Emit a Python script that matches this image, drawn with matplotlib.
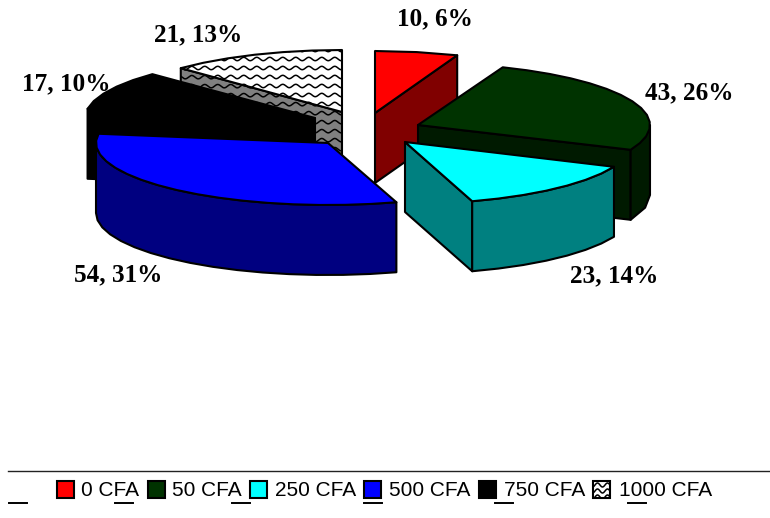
import numpy as np
import matplotlib
matplotlib.use("Agg")
import matplotlib.pyplot as plt
from matplotlib.patches import Polygon, Rectangle

categories = ["0 CFA", "50 CFA", "250 CFA", "500 CFA", "750 CFA", "1000 CFA"]
values = [10, 43, 23, 54, 17, 21]
percents = [6, 26, 14, 31, 10, 13]

# layout, in pixels
W, H = 770, 518
RX = [225, 232, 228, 232, 230, 228]
RY = 62
DEPTH = 70
APEX = [(375, 113), (418, 125), (405, 142), (328, 143), (315, 118), (342, 112)]
LABEL_POS = [(435, 19), (689, 93), (614, 276), (118, 275), (66, 84), (198, 35)]
SWATCH_X = [57, 148, 250, 364, 479, 593]
TEXT_X = [81, 172, 275, 389, 504, 619]
UNDERSCORE_X = [9, 115, 232, 364, 495, 628]

TOPS = ["#ff0000", "#003300", "#00ffff", "#0000ff", "#000000", "#ffffff"]
WALLS = ["#800000", "#001a00", "#008080", "#000080", "#000000", "#808080"]
PATTERNED = 5
LW = 1.5

fig = plt.figure(figsize=(W / 100, H / 100), dpi=100)
ax = fig.add_axes([0, 0, 1, 1])
ax.set_xlim(0, W)
ax.set_ylim(H, 0)
ax.axis("off")


def rim(i, t):
    t = np.radians(t)
    return np.column_stack((APEX[i][0] + RX[i] * np.sin(t), APEX[i][1] - RY * np.cos(t)))


def arc(t1, t2):
    # coarse steps, the original rim is a bit polygonal
    return np.linspace(t1, t2, max(3, int((t2 - t1) / 6)))


def waves(patch, x0, x1, y0, y1, step, period, amp):
    # wavy fill pattern, clipped to the patch
    xs = np.linspace(x0, x1, int(x1 - x0) * 2)
    for y in np.arange(y0, y1, step):
        line, = ax.plot(xs, y + amp * np.sin(2 * np.pi * xs / period),
                        color="black", lw=1.1, zorder=patch.get_zorder())
        line.set_clip_path(patch)


def face(pts, color, z, pattern=False):
    p = Polygon(pts, closed=True, fc=color, ec="none", zorder=z)
    ax.add_patch(p)
    if pattern:
        xy = np.asarray(pts)
        waves(p, xy[:, 0].min(), xy[:, 0].max(), xy[:, 1].min(), xy[:, 1].max(), 9, 13, 1.7)
    ax.add_patch(Polygon(pts, closed=True, fc="none", ec="black", lw=LW, joinstyle="round", zorder=z))


def wall(top, color, z, pattern=False):
    down = top[::-1] + np.array([0, DEPTH])
    face(np.vstack((top, down)), color, z, pattern)


edges = np.concatenate(([0], np.cumsum(values))) / sum(values) * 360
order = [5, 4, 0, 1, 2, 3]

for n, i in enumerate(order):
    t1, t2 = edges[i], edges[i + 1]
    z = 2 + n * 10
    patterned = i == PATTERNED
    # straight wall along the cut that faces the viewer
    if t1 > 180:
        wall(np.vstack((APEX[i], rim(i, t1))), WALLS[i], z, patterned)
    if t2 < 180:
        wall(np.vstack((APEX[i], rim(i, t2))), WALLS[i], z, patterned)
    # curved wall on the front part of the rim
    a, b = max(t1, 90), min(t2, 270)
    if a < b:
        wall(rim(i, arc(a, b)), WALLS[i], z + 1)
    # top
    top = np.vstack((APEX[i], rim(i, arc(t1, t2))))
    face(top, TOPS[i], z + 2, patterned)

for v, p, (x, y) in zip(values, percents, LABEL_POS):
    ax.text(x, y, f"{v}, {p}%", family="Liberation Serif", weight="bold", fontsize=18.2,
            ha="center", va="center", color="black", zorder=100)

# legend
ax.plot([8, W], [471, 471], color="#222222", lw=1, zorder=100)
for i, name in enumerate(categories):
    s = Rectangle((SWATCH_X[i], 481), 17, 17, fc=TOPS[i], ec="black", lw=LW, zorder=100)
    ax.add_patch(s)
    if i == PATTERNED:
        waves(s, SWATCH_X[i], SWATCH_X[i] + 17, 485, 498, 6, 10, 2)
    ax.text(TEXT_X[i], 490, name, family="Liberation Sans", fontsize=15,
            ha="left", va="center", color="black", zorder=100)
for x in UNDERSCORE_X:
    ax.plot([x, x + 18], [503, 503], color="black", lw=1.4, zorder=100)

fig.savefig("out.png", dpi=100)
